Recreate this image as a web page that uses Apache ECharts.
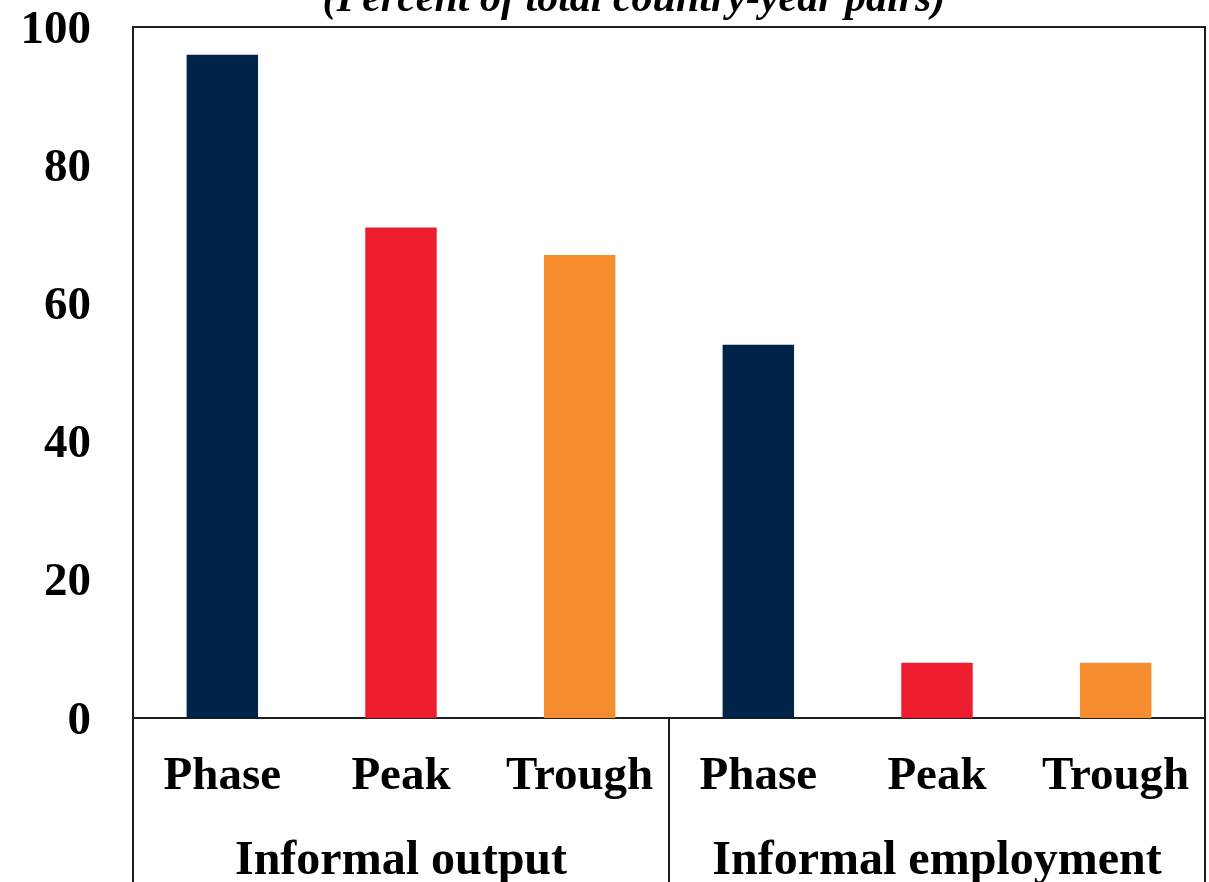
<!DOCTYPE html>
<html>
<head>
<meta charset="utf-8">
<script src="https://cdn.jsdelivr.net/npm/echarts@6/dist/echarts.min.js"></script>
<style>
  html, body { margin: 0; padding: 0; background: #ffffff; }
  #chart { width: 1209px; height: 882px; }
</style>
</head>
<body>
<div id="chart"></div>
<script>
// Share of country-year pairs, by measure and cycle phase
const phaseLabels = ['Phase', 'Peak', 'Trough', 'Phase', 'Peak', 'Trough'];
const groupLabels = ['Informal output', 'Informal employment'];
const shareValues = [96, 71, 67, 54, 8, 8];
const yTicks = [0, 20, 40, 60, 80, 100];

const barColors = ['#012349', '#ED1C2E', '#F68D2E', '#012349', '#ED1C2E', '#F68D2E'];
const FONT = '"Liberation Serif", "Times New Roman", serif';
const INK = '#1e1e1e';

const chart = echarts.init(document.getElementById('chart'), null, { renderer: 'canvas' });

chart.setOption({
  backgroundColor: '#ffffff',
  animation: false,
  grid: {
    left: 133, right: 4, top: 27, bottom: 164,
    outerBoundsMode: 'none',
    containLabel: false,
    show: true, borderColor: INK, borderWidth: 2, backgroundColor: 'transparent'
  },
  graphic: [{
    type: 'text',
    x: 634, y: 0,
    style: {
      text: '(Percent of total country-year pairs)',
      fontFamily: FONT, fontSize: 42, fontWeight: 'bold', fontStyle: 'italic',
      fill: '#000', align: 'center', verticalAlign: 'middle'
    }
  }],
  xAxis: [{
    type: 'category',
    data: phaseLabels,
    position: 'bottom',
    axisLine: { show: true, lineStyle: { color: INK, width: 2 } },
    axisTick: { show: false },
    axisLabel: {
      interval: 0, margin: 35,
      fontFamily: FONT, fontSize: 47, fontWeight: 'bold', color: '#000'
    },
    splitLine: { show: false }
  }, {
    type: 'category',
    data: groupLabels,
    position: 'bottom',
    offset: 0,
    axisLine: { show: false },
    axisTick: {
      show: true, alignWithLabel: false, interval: 0, length: 200,
      lineStyle: { color: INK, width: 2 }
    },
    axisLabel: {
      interval: 0, margin: 120,
      fontFamily: FONT, fontSize: 48, fontWeight: 'bold', color: '#000'
    },
    splitLine: { show: false }
  }],
  yAxis: {
    type: 'value',
    min: yTicks[0], max: yTicks[yTicks.length - 1], interval: yTicks[1] - yTicks[0],
    axisLine: { show: true, lineStyle: { color: INK, width: 2 } },
    axisTick: { show: false },
    splitLine: { show: false },
    axisLabel: {
      margin: 42,
      verticalAlign: 'top',
      lineHeight: 7,
      fontFamily: FONT, fontSize: 47, fontWeight: 'bold', color: '#000'
    }
  },
  series: [{
    type: 'bar',
    xAxisIndex: 0,
    barWidth: '40%',
    data: shareValues.map((v, i) => ({ value: v, itemStyle: { color: barColors[i] } }))
  }]
});
</script>
</body>
</html>
